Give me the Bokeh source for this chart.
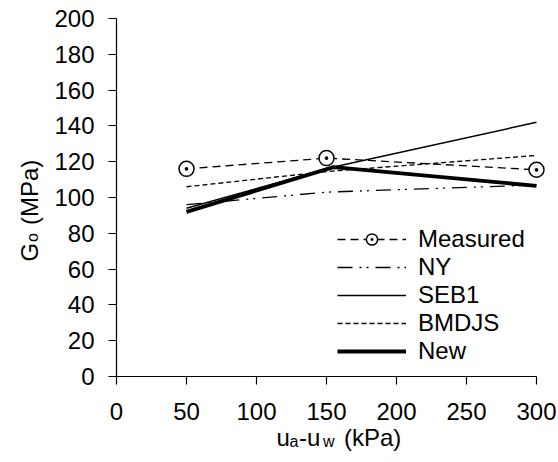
import math
from bokeh.plotting import figure
from bokeh.models import Range1d, FixedTicker, Legend, LegendItem, Label, LinearAxis
from bokeh.embed import file_html
from bokeh.resources import INLINE

# ---- data ----
suction_a = [50, 150, 300]
measured = [116, 122, 115.5]
ny = [96, 103, 107]
bmdjs = [106, 114.5, 123.5]
suction_b = [50, 155, 300]
seb1 = [94, 117, 142]
new = [92, 117, 106.5]
x_ticks = [0, 50, 100, 150, 200, 250, 300]
y_ticks = [0, 20, 40, 60, 80, 100, 120, 140, 160, 180, 200]

FONT = "Liberation Sans"
W, H = 558, 462
# plot area (axes box) in canvas pixels
AX_L, AX_R, AX_T, AX_B = 116, 536, 18, 376
X0, X1, Y0, Y1 = 0, 300, 0, 200
sx = (AX_R - AX_L) / (X1 - X0)
sy = (AX_B - AX_T) / (Y1 - Y0)

p = figure(width=W, height=H,
           x_range=Range1d(X0 - AX_L / sx, X1 + (W - AX_R) / sx),
           y_range=Range1d(Y0 - (H - AX_B) / sy, Y1 + AX_T / sy),
           x_axis_location=None, y_axis_location=None,
           output_backend="svg", toolbar_location=None,
           min_border=0, min_border_left=0, min_border_right=0,
           min_border_top=0, min_border_bottom=0)
p.outline_line_color = None
p.xgrid.visible = False
p.ygrid.visible = False
p.background_fill_color = "white"
p.border_fill_color = "white"

xax = LinearAxis(fixed_location=Y0, bounds=(X0, X1), ticker=FixedTicker(ticks=x_ticks))
yax = LinearAxis(fixed_location=X0, bounds=(Y0, Y1), ticker=FixedTicker(ticks=y_ticks))
for ax in (xax, yax):
    ax.axis_line_color = "black"
    ax.axis_line_width = 1.2
    ax.major_tick_line_color = "black"
    ax.major_tick_line_width = 1.2
    ax.major_tick_out = 8
    ax.major_tick_in = 0
    ax.minor_tick_out = 0
    ax.minor_tick_in = 0
    ax.major_label_text_font = FONT
    ax.major_label_text_font_size = "24px"
    ax.major_label_text_color = "black"
yax.major_label_standoff = 14
xax.major_label_standoff = 18
p.add_layout(xax, "below")
p.add_layout(yax, "left")

r_meas_line = p.line(suction_a, measured, line_color="black", line_width=1.3, line_dash="8 5")
r_meas_pts = p.scatter(suction_a, measured, marker="circle_dot", size=15, line_color="black",
                       line_width=1.5, fill_color="white")
r_ny = p.line(suction_a, ny, line_color="black", line_width=1.3, line_dash="15 7 2 5 2 7")
r_seb1 = p.line(suction_b, seb1, line_color="black", line_width=1.5)
r_bmdjs = p.line(suction_a, bmdjs, line_color="black", line_width=1.3, line_dash="5 3")
r_new = p.line(suction_b, new, line_color="black", line_width=3.8)

legend = Legend(items=[
    LegendItem(label="Measured", renderers=[r_meas_line, r_meas_pts]),
    LegendItem(label="NY", renderers=[r_ny]),
    LegendItem(label="SEB1", renderers=[r_seb1]),
    LegendItem(label="BMDJS", renderers=[r_bmdjs]),
    LegendItem(label="New", renderers=[r_new]),
], location=(337, H - 365), padding=0, margin=0, border_line_color=None,
   background_fill_alpha=0, label_text_font=FONT, label_text_font_size="24px",
   label_text_color="black",
   glyph_width=69, glyph_height=28, label_height=28, spacing=0, label_standoff=12)
p.add_layout(legend)

def lab(x, y, text, size, angle=0.0):
    # x, y: canvas pixels from the top-left corner (frame fills the canvas)
    p.add_layout(Label(x=x, y=H - y, x_units="screen", y_units="screen", text=text,
                       text_font=FONT, text_font_size=size, text_color="black",
                       text_align="left", text_baseline="alphabetic", angle=angle))

# x axis title: u_a-u_w (kPa)
lab(276, 437, "u", "24px")
lab(289, 441, "a", "16px")
lab(298.5, 437, "-u", "24px")
lab(322.5, 441, "w", "16px")
lab(343.5, 437, "(kPa)", "24px")

# y axis title: G_o (MPa)
lab(29, 261, "G", "24px", math.pi / 2)
lab(32, 241.5, "o", "16px", math.pi / 2)
lab(29, 224.5, "(MPa)", "24px", math.pi / 2)

open("out.html", "w").write(file_html(p, INLINE))
